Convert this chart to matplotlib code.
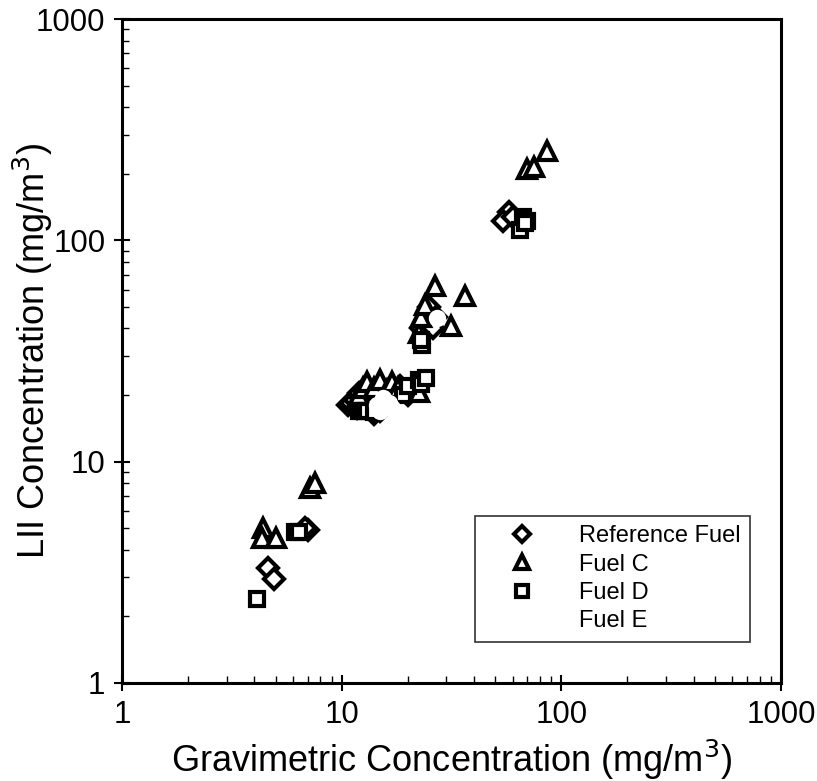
import matplotlib
matplotlib.use("Agg")
import matplotlib.pyplot as plt
from matplotlib.ticker import LogLocator, FixedLocator, NullFormatter

plt.rcParams['font.family'] = ['Liberation Sans', 'DejaVu Sans']

# Gravimetric (x) vs LII (y) concentrations, mg/m^3
ref_x = [4.6, 4.9, 7.0, 6.8, 10.7, 11.0, 11.5, 11.8, 12.0, 12.3, 12.5, 12.8, 13.0, 13.2, 13.5, 14.0,
         15.0, 16.0, 18.5, 20.0, 21.0, 25.0, 24.0, 27.0, 23.0, 26.0, 58.0, 54.0, 60.0]
ref_y = [3.3, 2.95, 4.9, 5.0, 18.0, 18.5, 19.0, 17.5, 20.5, 19.5, 21.0, 18.3, 17.5, 20.0, 19.0, 16.5,
         17.0, 19.0, 22.0, 20.0, 21.0, 50.0, 42.0, 45.0, 40.0, 40.0, 135.0, 122.0, 128.0]

fc_x = [4.4, 4.35, 5.0, 7.2, 7.6, 12.0, 12.0, 12.5, 13.1, 13.5, 14.0, 15.0, 16.0, 17.0, 18.0, 22.4,
        22.4, 23.0, 24.0, 26.7, 31.3, 36.6, 70.0, 75.0, 86.0]
fc_y = [5.0, 4.5, 4.5, 7.6, 8.0, 18.0, 20.0, 21.5, 22.8, 18.0, 21.5, 23.3, 21.0, 22.8, 21.5, 20.7,
        38.0, 45.0, 51.0, 62.0, 41.0, 56.0, 210.0, 214.0, 253.0]

fd_x = [4.1, 6.1, 6.4, 12.0, 12.5, 13.0, 14.0, 19.0, 20.0, 22.5, 23.0, 23.3, 23.0, 24.1, 65.0, 67.0,
        70.0, 68.0]
fd_y = [2.4, 4.8, 4.8, 17.0, 17.0, 17.0, 16.8, 20.0, 22.0, 23.5, 22.5, 33.8, 35.5, 24.0, 112.0, 128.0,
        122.0, 120.0]

fe_x = [3.3, 14.5, 15.5, 16.5, 15.0, 17.0, 27.3]
fe_y = [6.7, 18.0, 19.5, 18.5, 17.0, 17.5, 44.8]

x_ticks = [1, 10, 100, 1000]
y_ticks = [1, 10, 100, 1000]
tick_labels = ['1', '10', '100', '1000']

fig = plt.figure(figsize=(8.17, 7.81), dpi=100)
ax = fig.add_axes([0.1493, 0.1255, 0.8067, 0.850])

ms = 12.5
mew = 3.0
ax.plot(ref_x, ref_y, linestyle='none', marker='D', markersize=ms * 0.8, markerfacecolor='white',
        markeredgecolor='black', markeredgewidth=mew, label='Reference Fuel', zorder=3)
ax.plot(fc_x, fc_y, linestyle='none', marker='^', markersize=ms, markerfacecolor='white',
        markeredgecolor='black', markeredgewidth=mew, label='Fuel C', zorder=3)
ax.plot(fd_x, fd_y, linestyle='none', marker='s', markersize=ms * 0.8, markerfacecolor='white',
        markeredgecolor='black', markeredgewidth=mew, label='Fuel D', zorder=3)
ax.plot(fe_x, fe_y, linestyle='none', marker='o', markersize=ms, markerfacecolor='white',
        markeredgecolor='white', markeredgewidth=0, label='Fuel E', zorder=4)

ax.set_xscale('log')
ax.set_yscale('log')
ax.set_xlim(1, 1000)
ax.set_ylim(1, 1000)

ax.xaxis.set_major_locator(FixedLocator(x_ticks))
ax.yaxis.set_major_locator(FixedLocator(y_ticks))
ax.set_xticklabels(tick_labels)
ax.set_yticklabels(tick_labels)
ax.xaxis.set_minor_locator(LogLocator(base=10, subs=range(2, 10)))
ax.yaxis.set_minor_locator(LogLocator(base=10, subs=range(2, 10)))
ax.xaxis.set_minor_formatter(NullFormatter())
ax.yaxis.set_minor_formatter(NullFormatter())

ax.tick_params(which='major', direction='inout', length=12, width=1.5, labelsize=22.5,
               top=False, right=False, pad=6)
ax.tick_params(which='minor', direction='in', length=5, width=1, top=False, right=False)

for s in ax.spines.values():
    s.set_linewidth(2.2)

ax.set_xlabel('Gravimetric Concentration (mg/m$^3$)', fontsize=26, labelpad=6)
ax.set_ylabel('LII Concentration (mg/m$^3$)', fontsize=26)
ax.yaxis.set_label_coords(-0.102, 0.5)

leg = ax.legend(loc='lower right', bbox_to_anchor=(0.953, 0.062), fontsize=17, frameon=True,
                fancybox=False, edgecolor='black', handlelength=3.2, handletextpad=0.8,
                borderpad=0.4, borderaxespad=0.0, labelspacing=0.27, markerscale=0.85)
leg.get_frame().set_linewidth(1.2)

fig.savefig('out.png', dpi=100)
